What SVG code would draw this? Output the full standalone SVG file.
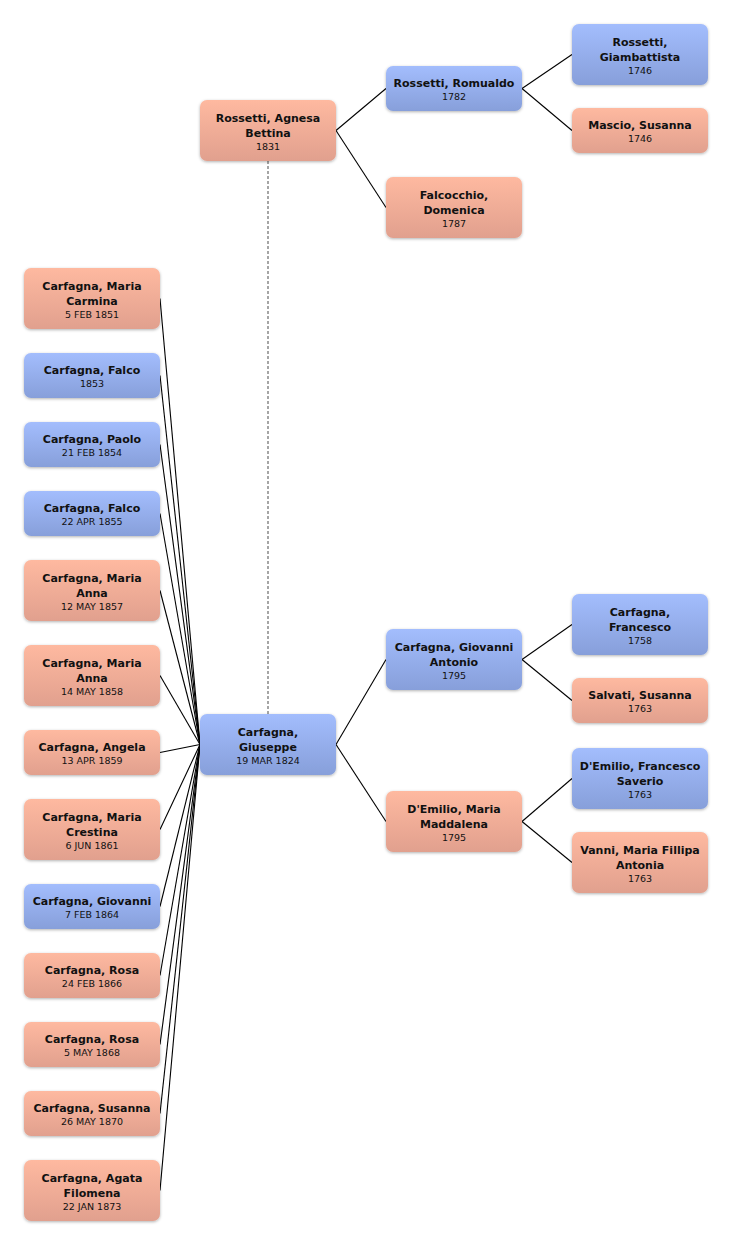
<svg xmlns="http://www.w3.org/2000/svg" width="732" height="1246" viewBox="0 0 732 1246">
<defs>
<linearGradient id="gF" x1="0" y1="0" x2="0" y2="1"><stop offset="0" stop-color="#FEB9A0"/><stop offset="1" stop-color="#E1A08E"/></linearGradient>
<linearGradient id="gM" x1="0" y1="0" x2="0" y2="1"><stop offset="0" stop-color="#A3BDFD"/><stop offset="1" stop-color="#879FDA"/></linearGradient>
<filter id="sh" x="-10%" y="-20%" width="120%" height="140%"><feDropShadow dx="0" dy="1" stdDeviation="1.6" flood-color="#000" flood-opacity="0.3"/></filter>
</defs>
<style>
.f{fill:url(#gF);filter:url(#sh)}
.m{fill:url(#gM);filter:url(#sh)}
.n{font-family:"DejaVu Sans",sans-serif;font-weight:bold;font-size:11px;fill:#111;text-anchor:middle}
.d{font-family:"DejaVu Sans",sans-serif;font-size:9.5px;fill:#111;text-anchor:middle}
.c line{stroke:#000;stroke-width:1.1}
.c line.dash{stroke:#888;stroke-width:1.5;stroke-dasharray:3 2}
</style>
<rect width="732" height="1246" fill="#fff"/>
<g id="connectors" class="c">
<line class="dash" x1="268" y1="161" x2="268" y2="714"/>
<line x1="336" y1="130.5" x2="386" y2="88.5"/>
<line x1="336" y1="130.5" x2="386" y2="207.5"/>
<line x1="522" y1="88.5" x2="572" y2="54.5"/>
<line x1="522" y1="88.5" x2="572" y2="130.5"/>
<line x1="336" y1="744.5" x2="386" y2="659.5"/>
<line x1="336" y1="744.5" x2="386" y2="821.5"/>
<line x1="522" y1="659.5" x2="572" y2="624.5"/>
<line x1="522" y1="659.5" x2="572" y2="700.5"/>
<line x1="522" y1="821.5" x2="572" y2="778.5"/>
<line x1="522" y1="821.5" x2="572" y2="862.5"/>
<line x1="160" y1="298.5" x2="200" y2="744.5"/>
<line x1="160" y1="375.5" x2="200" y2="744.5"/>
<line x1="160" y1="444.5" x2="200" y2="744.5"/>
<line x1="160" y1="513.5" x2="200" y2="744.5"/>
<line x1="160" y1="590.5" x2="200" y2="744.5"/>
<line x1="160" y1="675.5" x2="200" y2="744.5"/>
<line x1="160" y1="752.5" x2="200" y2="744.5"/>
<line x1="160" y1="829.5" x2="200" y2="744.5"/>
<line x1="160" y1="906.5" x2="200" y2="744.5"/>
<line x1="160" y1="975.5" x2="200" y2="744.5"/>
<line x1="160" y1="1044.5" x2="200" y2="744.5"/>
<line x1="160" y1="1113.5" x2="200" y2="744.5"/>
<line x1="160" y1="1190.5" x2="200" y2="744.5"/>
</g>
<g id="agnesa" transform="translate(200,100)"><rect class="f" width="136" height="61" rx="7"/><text class="n" x="68" y="22">Rossetti, Agnesa</text><text class="n" x="68" y="37">Bettina</text><text class="d" x="68" y="49.5">1831</text></g>
<g id="romualdo" transform="translate(386,66)"><rect class="m" width="136" height="45" rx="7"/><text class="n" x="68" y="21">Rossetti, Romualdo</text><text class="d" x="68" y="33.5">1782</text></g>
<g id="giambattista" transform="translate(572,24)"><rect class="m" width="136" height="61" rx="7"/><text class="n" x="68" y="22">Rossetti,</text><text class="n" x="68" y="37">Giambattista</text><text class="d" x="68" y="49.5">1746</text></g>
<g id="mascio" transform="translate(572,108)"><rect class="f" width="136" height="45" rx="7"/><text class="n" x="68" y="21">Mascio, Susanna</text><text class="d" x="68" y="33.5">1746</text></g>
<g id="falcocchio" transform="translate(386,177)"><rect class="f" width="136" height="61" rx="7"/><text class="n" x="68" y="22">Falcocchio,</text><text class="n" x="68" y="37">Domenica</text><text class="d" x="68" y="49.5">1787</text></g>
<g id="giuseppe" transform="translate(200,714)"><rect class="m" width="136" height="61" rx="7"/><text class="n" x="68" y="22">Carfagna,</text><text class="n" x="68" y="37">Giuseppe</text><text class="d" x="68" y="49.5">19 MAR 1824</text></g>
<g id="giovanni-antonio" transform="translate(386,629)"><rect class="m" width="136" height="61" rx="7"/><text class="n" x="68" y="22">Carfagna, Giovanni</text><text class="n" x="68" y="37">Antonio</text><text class="d" x="68" y="49.5">1795</text></g>
<g id="francesco" transform="translate(572,594)"><rect class="m" width="136" height="61" rx="7"/><text class="n" x="68" y="22">Carfagna,</text><text class="n" x="68" y="37">Francesco</text><text class="d" x="68" y="49.5">1758</text></g>
<g id="salvati" transform="translate(572,678)"><rect class="f" width="136" height="45" rx="7"/><text class="n" x="68" y="21">Salvati, Susanna</text><text class="d" x="68" y="33.5">1763</text></g>
<g id="demilio-maddalena" transform="translate(386,791)"><rect class="f" width="136" height="61" rx="7"/><text class="n" x="68" y="22">D'Emilio, Maria</text><text class="n" x="68" y="37">Maddalena</text><text class="d" x="68" y="49.5">1795</text></g>
<g id="demilio-saverio" transform="translate(572,748)"><rect class="m" width="136" height="61" rx="7"/><text class="n" x="68" y="22">D'Emilio, Francesco</text><text class="n" x="68" y="37">Saverio</text><text class="d" x="68" y="49.5">1763</text></g>
<g id="vanni" transform="translate(572,832)"><rect class="f" width="136" height="61" rx="7"/><text class="n" x="68" y="22">Vanni, Maria Fillipa</text><text class="n" x="68" y="37">Antonia</text><text class="d" x="68" y="49.5">1763</text></g>
<g id="c1" transform="translate(24,268)"><rect class="f" width="136" height="61" rx="7"/><text class="n" x="68" y="22">Carfagna, Maria</text><text class="n" x="68" y="37">Carmina</text><text class="d" x="68" y="49.5">5 FEB 1851</text></g>
<g id="c2" transform="translate(24,353)"><rect class="m" width="136" height="45" rx="7"/><text class="n" x="68" y="21">Carfagna, Falco</text><text class="d" x="68" y="33.5">1853</text></g>
<g id="c3" transform="translate(24,422)"><rect class="m" width="136" height="45" rx="7"/><text class="n" x="68" y="21">Carfagna, Paolo</text><text class="d" x="68" y="33.5">21 FEB 1854</text></g>
<g id="c4" transform="translate(24,491)"><rect class="m" width="136" height="45" rx="7"/><text class="n" x="68" y="21">Carfagna, Falco</text><text class="d" x="68" y="33.5">22 APR 1855</text></g>
<g id="c5" transform="translate(24,560)"><rect class="f" width="136" height="61" rx="7"/><text class="n" x="68" y="22">Carfagna, Maria</text><text class="n" x="68" y="37">Anna</text><text class="d" x="68" y="49.5">12 MAY 1857</text></g>
<g id="c6" transform="translate(24,645)"><rect class="f" width="136" height="61" rx="7"/><text class="n" x="68" y="22">Carfagna, Maria</text><text class="n" x="68" y="37">Anna</text><text class="d" x="68" y="49.5">14 MAY 1858</text></g>
<g id="c7" transform="translate(24,730)"><rect class="f" width="136" height="45" rx="7"/><text class="n" x="68" y="21">Carfagna, Angela</text><text class="d" x="68" y="33.5">13 APR 1859</text></g>
<g id="c8" transform="translate(24,799)"><rect class="f" width="136" height="61" rx="7"/><text class="n" x="68" y="22">Carfagna, Maria</text><text class="n" x="68" y="37">Crestina</text><text class="d" x="68" y="49.5">6 JUN 1861</text></g>
<g id="c9" transform="translate(24,884)"><rect class="m" width="136" height="45" rx="7"/><text class="n" x="68" y="21">Carfagna, Giovanni</text><text class="d" x="68" y="33.5">7 FEB 1864</text></g>
<g id="c10" transform="translate(24,953)"><rect class="f" width="136" height="45" rx="7"/><text class="n" x="68" y="21">Carfagna, Rosa</text><text class="d" x="68" y="33.5">24 FEB 1866</text></g>
<g id="c11" transform="translate(24,1022)"><rect class="f" width="136" height="45" rx="7"/><text class="n" x="68" y="21">Carfagna, Rosa</text><text class="d" x="68" y="33.5">5 MAY 1868</text></g>
<g id="c12" transform="translate(24,1091)"><rect class="f" width="136" height="45" rx="7"/><text class="n" x="68" y="21">Carfagna, Susanna</text><text class="d" x="68" y="33.5">26 MAY 1870</text></g>
<g id="c13" transform="translate(24,1160)"><rect class="f" width="136" height="61" rx="7"/><text class="n" x="68" y="22">Carfagna, Agata</text><text class="n" x="68" y="37">Filomena</text><text class="d" x="68" y="49.5">22 JAN 1873</text></g>
</svg>
